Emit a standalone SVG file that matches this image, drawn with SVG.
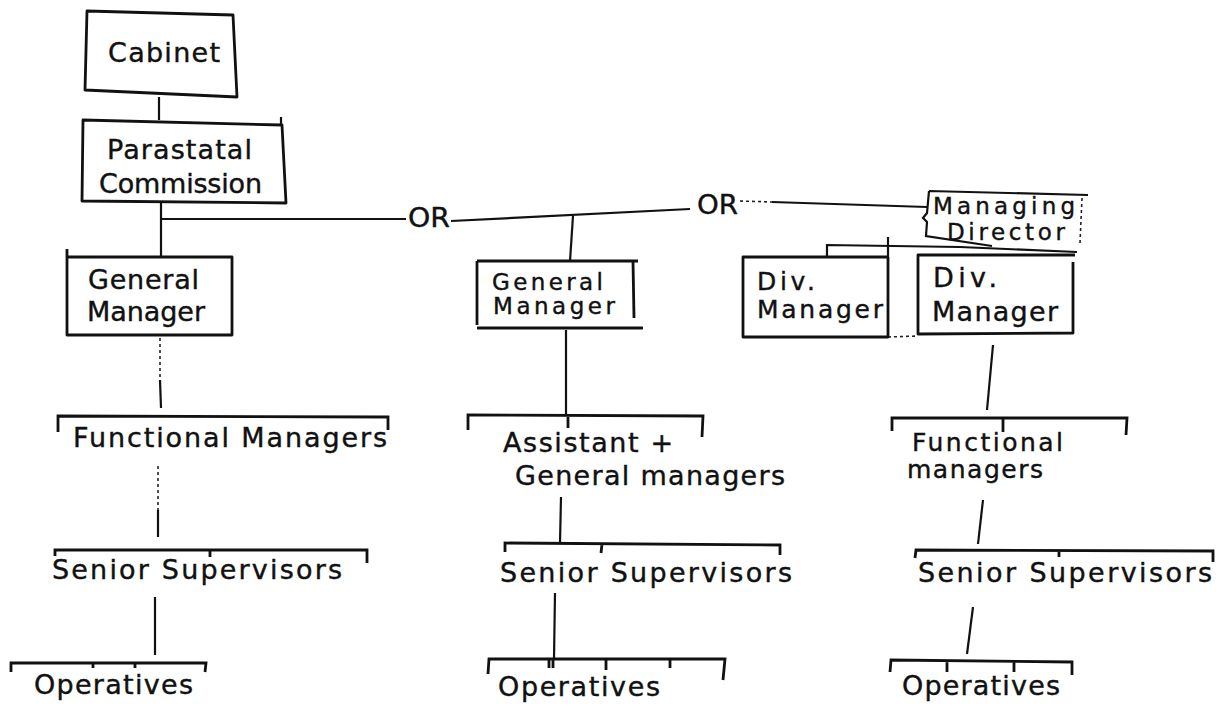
<svg xmlns="http://www.w3.org/2000/svg" width="1227" height="706" viewBox="0 0 1227 706">
<style>
.box{fill:none;stroke:#111;stroke-width:2.8;stroke-linejoin:round}
.ln{fill:none;stroke:#111;stroke-width:2.2}
.br{fill:none;stroke:#111;stroke-width:2.8}
.dot{fill:none;stroke:#222;stroke-width:1.6;stroke-dasharray:3 3}
text{font-family:"DejaVu Sans","Liberation Sans",sans-serif;font-size:27px;fill:#111;stroke:#111;stroke-width:0.4}
.s{font-size:25px}
.t{font-size:23px}
</style>
<rect width="1227" height="706" fill="#fff"/>
<g id="connectors">
  <line class="ln" x1="159" y1="97" x2="159" y2="120"/>
  <line class="ln" x1="161" y1="202" x2="161" y2="257"/>
  <polyline class="ln" points="161,219 406,219"/>
  <polyline class="ln" points="451,221 690,209"/>
  <polyline class="ln" points="772,202 927,207"/>
  <line class="dot" x1="740" y1="201" x2="772" y2="202"/>
  <line class="ln" x1="573" y1="216" x2="570" y2="261"/>
  <polyline class="ln" points="827,256 827,245 960,247 1077,252"/>
  <line class="ln" x1="888" y1="237" x2="888" y2="257"/>
  <line class="dot" x1="160" y1="338" x2="160" y2="380"/>
  <line class="ln" x1="160" y1="380" x2="161" y2="408"/>
  <line class="dot" x1="158" y1="466" x2="158" y2="510"/>
  <line class="ln" x1="158" y1="510" x2="158" y2="537"/>
  <line class="ln" x1="155" y1="597" x2="155" y2="655"/>
  <line class="ln" x1="566" y1="330" x2="566" y2="414"/>
  <line class="ln" x1="561" y1="497" x2="560" y2="543"/>
  <line class="ln" x1="555" y1="593" x2="554" y2="658"/>
  <line class="ln" x1="993" y1="345" x2="987" y2="410"/>
  <line class="ln" x1="983" y1="500" x2="978" y2="544"/>
  <line class="ln" x1="973" y1="607" x2="967" y2="654"/>
  <line class="dot" x1="888" y1="337" x2="918" y2="336"/>
  <text x="408" y="227" textLength="42" lengthAdjust="spacingAndGlyphs">OR</text>
  <text x="697" y="214" textLength="41" lengthAdjust="spacingAndGlyphs">OR</text>
</g>
<g id="cabinet">
  <polygon class="box" points="87,11 233,15 237,97 85,90"/>
  <text x="108" y="62" font-size="28" textLength="112">Cabinet</text>
</g>
<g id="parastatal-commission">
  <polygon class="box" points="83,120 282,125 286,203 82,201"/>
  <line class="ln" x1="281" y1="117" x2="281" y2="125"/>
  <text x="107" y="159" font-size="28" textLength="145">Parastatal</text>
  <text x="99" y="193" font-size="28" textLength="163">Commission</text>
</g>
<g id="general-manager-1">
  <polyline class="box" points="67,249 67,335 232,335 232,257 67,257"/>
  <text x="88" y="289" textLength="111">General</text>
  <text x="87" y="321" textLength="118">Manager</text>
</g>
<g id="general-manager-2">
  <line class="box" x1="477" y1="261" x2="638" y2="261"/>
  <line class="box" x1="477" y1="261" x2="477" y2="325"/>
  <line class="box" x1="633" y1="261" x2="634" y2="318"/>
  <line class="box" x1="477" y1="328" x2="643" y2="328"/>
  <text class="t" x="492" y="290" textLength="111">General</text>
  <text class="t" x="493" y="314" textLength="122">Manager</text>
</g>
<g id="managing-director">
  <path class="ln" d="M929,191 L1088,195 M929,191 L927,213 L923,218 L927,222 L926,236 L992,246"/>
  <line class="dot" x1="1082" y1="198" x2="1080" y2="243"/>
  <text class="t" x="933" y="214" textLength="142">Managing</text>
  <text class="t" x="947" y="240" textLength="118">Director</text>
</g>
<g id="div-manager-1">
  <polyline class="box" points="888,257 743,257 743,337 888,337 888,257"/>
  <text class="s" x="757" y="290" textLength="58">Div.</text>
  <text class="s" x="757" y="318" textLength="126">Manager</text>
</g>
<g id="div-manager-2">
  <polyline class="box" points="1075,255 918,255 918,334 1073,333 1073,262"/>
  <text x="933" y="287" textLength="64">Div.</text>
  <text x="932" y="321" textLength="126">Manager</text>
</g>
<g id="functional-managers-1">
  <path class="br" d="M58,432 L58,416 L388,417 L388,430"/>
  <text x="73" y="447" textLength="314">Functional Managers</text>
</g>
<g id="senior-supervisors-1">
  <path class="br" d="M55,556 L55,550 L367,550 L367,563 M210,550 L210,557"/>
  <text x="52" y="579" textLength="290">Senior Supervisors</text>
</g>
<g id="operatives-1">
  <path class="br" d="M11,672 L11,663 L206,663 L205,672 M93,663 L93,668 M135,663 L135,668"/>
  <text x="34" y="694" textLength="159">Operatives</text>
</g>
<g id="assistant-general-managers">
  <path class="br" d="M468,430 L468,415 L703,416 L702,437 M568,416 L568,428"/>
  <text x="503" y="452" textLength="170">Assistant +</text>
  <text x="515" y="485" textLength="270">General managers</text>
</g>
<g id="senior-supervisors-2">
  <path class="br" d="M505,552 L505,543 L780,545 L780,555 M602,544 L601,553"/>
  <text x="500" y="582" textLength="292">Senior Supervisors</text>
</g>
<g id="operatives-2">
  <path class="br" d="M488,674 L489,659 L725,659 L723,680 M549,659 L549,668 M553,659 L553,668 M606,659 L606,670 M670,659 L670,668"/>
  <text x="498" y="696" textLength="162">Operatives</text>
</g>
<g id="functional-managers-3">
  <path class="br" d="M892,431 L892,418 L1127,418 L1126,435 M1003,418 L1003,432"/>
  <text class="s" x="912" y="451" textLength="151">Functional</text>
  <text class="s" x="907" y="478" textLength="136">managers</text>
</g>
<g id="senior-supervisors-3">
  <path class="br" d="M915,558 L916,550 L1213,551 L1213,562 M1059,550 L1059,557"/>
  <text x="918" y="582" textLength="294">Senior Supervisors</text>
</g>
<g id="operatives-3">
  <path class="br" d="M890,672 L891,660 L1072,662 L1072,675 M947,661 L947,672 M1014,661 L1014,672"/>
  <text x="902" y="695" textLength="158">Operatives</text>
</g>
</svg>
